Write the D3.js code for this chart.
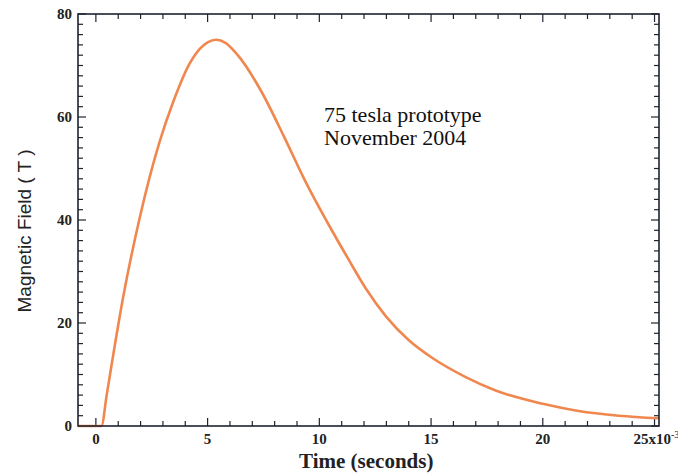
<!DOCTYPE html>
<html>
<head>
<meta charset="utf-8">
<script src="https://cdnjs.cloudflare.com/ajax/libs/d3/7.8.5/d3.min.js"></script>
<style>
  html, body { margin: 0; padding: 0; background: #fff; }
  svg { display: block; }
</style>
</head>
<body>
<div id="chart"></div>
<script>
// time in ms (axis shows x10^-3 s), field in tesla
const timeMs = [-0.8, 0.25, 0.48, 0.7, 1.22, 1.96, 2.86, 3.45, 4.2, 4.64, 5.0, 5.39, 5.8, 6.35, 7.4, 8.44, 9.33,
                10.52, 11.3, 12.08, 12.98, 14.02, 15.06, 16.55, 17.89, 20, 21.6, 23.4, 25.2];
const fieldT = [0, 0, 5.9, 11.8, 25.0, 40.4, 55.3, 62.8, 70.4, 73.2, 74.5, 75.0, 74.4, 72.0, 65.0, 56.0, 47.9,
                38.3, 32.4, 26.7, 21.3, 16.6, 13.2, 9.5, 6.9, 4.3, 2.9, 2.0, 1.5];
const xTickLabels = [0, 5, 10, 15, 20];
const yTickLabels = [0, 20, 40, 60, 80];
const noteLines = ["75 tesla prototype", "November 2004"];

const width = 678, height = 473;
const margin = {top: 14, right: 19, bottom: 47, left: 78};
const plotW = width - margin.left - margin.right;
const plotH = height - margin.top - margin.bottom;

const svg = d3.select("#chart").append("svg")
  .attr("width", width)
  .attr("height", height);

const x = d3.scaleLinear().domain([-0.8, 25.2]).range([margin.left, margin.left + plotW]);
const y = d3.scaleLinear().domain([0, 80]).range([margin.top + plotH, margin.top]);

const axisColor = "#1d2330";
const serif = "'Liberation Serif', 'Times New Roman', serif";

// minor / major ticks, all pointing inwards, on all four sides
const ticks = svg.append("g").attr("stroke", axisColor).attr("stroke-width", 1.2);
d3.range(0, 26, 1).forEach(function (t) {
  const len = t % 5 === 0 ? 8 : 5;
  ticks.append("line").attr("x1", x(t)).attr("x2", x(t))
    .attr("y1", y(0)).attr("y2", y(0) - len);
  ticks.append("line").attr("x1", x(t)).attr("x2", x(t))
    .attr("y1", y(80)).attr("y2", y(80) + len);
});
d3.range(0, 81, 2).forEach(function (v) {
  const len = v % 20 === 0 ? 8 : 5;
  ticks.append("line").attr("x1", x.range()[0]).attr("x2", x.range()[0] + len)
    .attr("y1", y(v)).attr("y2", y(v));
  ticks.append("line").attr("x1", x.range()[1]).attr("x2", x.range()[1] - len)
    .attr("y1", y(v)).attr("y2", y(v));
});

// the curve
const line = d3.line()
  .x(function (d, i) { return x(timeMs[i]); })
  .y(function (d) { return y(d); })
  .curve(d3.curveMonotoneX);

svg.append("path")
  .datum(fieldT)
  .attr("d", line)
  .attr("fill", "none")
  .attr("stroke", "#f0874f")
  .attr("stroke-width", 2.6)
  .attr("stroke-linejoin", "round");

// frame
svg.append("rect")
  .attr("x", x.range()[0]).attr("y", y(80))
  .attr("width", plotW).attr("height", plotH)
  .attr("fill", "none").attr("stroke", axisColor).attr("stroke-width", 1.6);

// tick labels
svg.append("g").selectAll("text")
  .data(yTickLabels).enter().append("text")
  .attr("x", x.range()[0] - 6)
  .attr("y", function (d) { return y(d); })
  .attr("dy", "0.35em")
  .attr("text-anchor", "end")
  .style("font-family", serif).style("font-size", "15px").style("font-weight", "bold")
  .attr("fill", "#222")
  .text(function (d) { return d; });

svg.append("g").selectAll("text")
  .data(xTickLabels).enter().append("text")
  .attr("x", function (d) { return x(d); })
  .attr("y", y(0) + 18)
  .attr("text-anchor", "middle")
  .style("font-family", serif).style("font-size", "15px").style("font-weight", "bold")
  .attr("fill", "#222")
  .text(function (d) { return d; });

const last = svg.append("text")
  .attr("x", x(25) - 21)
  .attr("y", y(0) + 18)
  .style("font-family", serif).style("font-size", "15px").style("font-weight", "bold")
  .attr("fill", "#222");
last.append("tspan").text("25x10");
last.append("tspan").attr("dy", -6).style("font-size", "10px").style("font-weight", "normal").text("-3");

// axis titles
svg.append("text")
  .attr("x", x(12.1))
  .attr("y", 468)
  .attr("text-anchor", "middle")
  .style("font-family", serif).style("font-size", "21px").style("font-weight", "bold")
  .attr("fill", "#222")
  .text("Time (seconds)");

svg.append("text")
  .attr("transform", "translate(31," + 231 + ") rotate(-90)")
  .attr("text-anchor", "middle")
  .style("font-family", "'Liberation Sans', Arial, sans-serif").style("font-size", "19px")
  .attr("fill", "#222")
  .text("Magnetic Field ( T )");

// annotation
svg.append("g").selectAll("text")
  .data(noteLines).enter().append("text")
  .attr("x", 324)
  .attr("y", function (d, i) { return 122 + i * 23; })
  .style("font-family", serif).style("font-size", "22px")
  .attr("fill", "#111")
  .text(function (d) { return d; });
</script>
</body>
</html>
